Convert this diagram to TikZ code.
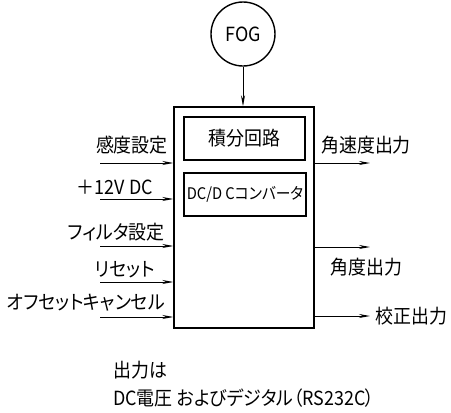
\documentclass[tikz,border=0pt]{standalone}
\usepackage{fontspec}
\setmainfont{Noto Sans CJK JP}[RawFeature=+palt,FakeStretch=0.92]
\usetikzlibrary{arrows.meta}
\tikzset{
  lbl/.style={font=\fontsize{19.5}{19.5}\selectfont,inner sep=0pt},
  blk/.style={draw,line width=1.4pt,inner sep=0pt},
  sig/.style={->,line width=0.9pt},
}
\begin{document}
\begin{tikzpicture}[x=1pt,y=-1pt,>={Stealth[length=11pt,width=4pt]}]
\useasboundingbox (0,0) rectangle (451,413);
% FOG and the main box
\node[blk,circle,minimum size=64pt,lbl] (fog) at (243,34) {FOG};
\node[blk,minimum width=140pt,minimum height=221pt] (main) at (244,217.5) {};
\node[blk,minimum width=121pt,minimum height=43pt,lbl] (integ) at (244.5,138.5) {積分回路};
\node[blk,minimum width=122pt,minimum height=43pt,lbl,font=\fontsize{16}{16}\selectfont] (dcdc) at (245,194.5) {DC/D Cコンバータ};
\draw [sig] (fog.south) -- (fog.south |- main.north);
% inputs
\foreach \name/\y/\ly/\lx/\txt in {sens/163/145/168/感度設定, pwr/199/187/153/＋12V DC, filt/246/232/165/フィルタ設定, rst/282/270/155/リセット, ofs/317/303/165/オフセットキャンセル}{
  \coordinate (\name) at (100,\y);
  \node[lbl,anchor=east] (\name l) at (\lx,\ly) {\txt};
  \draw [sig] (\name) -- (\name -| main.west);
}
% outputs
\coordinate (rate) at (370,163);
\coordinate (ang) at (370,247);
\coordinate (cal) at (370,316);
\draw [sig] (rate -| main.east) -- (rate);
\draw [sig] (ang -| main.east) -- (ang);
\draw [sig] (cal -| main.east) -- (cal);
\node[lbl,anchor=west] (ratel) at (321,145) {角速度出力};
\node[lbl,anchor=west] (angl) at (330,267) {角度出力};
\node[lbl,anchor=west] (call) at (375,316) {校正出力};
% note
\node[lbl,anchor=west] (note1) at (113,370) {出力は};
\node[lbl,anchor=west] (note2) at (113,398) {DC電圧 およびデジタル（RS232C）};
\end{tikzpicture}
\end{document}
